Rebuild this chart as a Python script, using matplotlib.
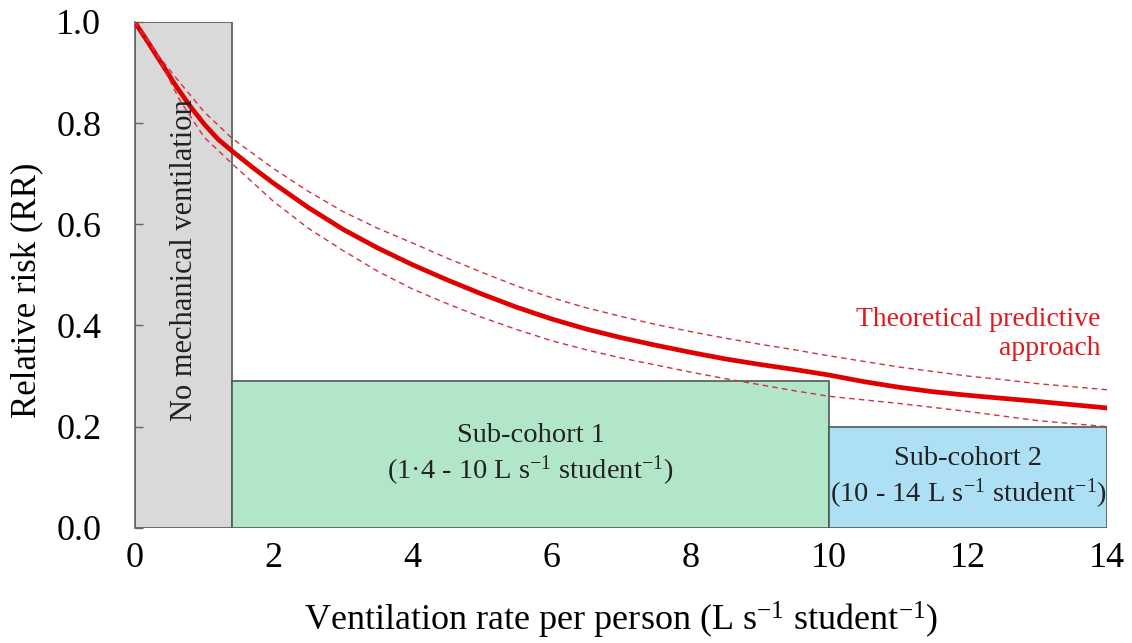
import numpy as np
import matplotlib
matplotlib.use("Agg")
import matplotlib.pyplot as plt
from matplotlib.patches import Rectangle

plt.rcParams['font.family'] = ['Liberation Serif', 'DejaVu Serif']
plt.rcParams['mathtext.fontset'] = 'custom'
plt.rcParams['mathtext.rm'] = 'Liberation Serif'
plt.rcParams['mathtext.default'] = 'regular'

# ventilation rate (L/s per student) and relative risk, central estimate
x_main = [0, 0.2, 0.4, 0.6, 0.8, 1.0, 1.2, 1.4, 1.7, 2, 2.5, 3, 3.5, 4, 4.5,
          5, 5.5, 6, 6.5, 7, 7.5, 8, 8.5, 9, 9.5, 10, 10.5, 11, 11.5, 12,
          12.5, 13, 13.5, 14]
rr_main = [1.0, 0.958, 0.915, 0.872, 0.833, 0.798, 0.768, 0.745, 0.712, 0.681,
           0.633, 0.590, 0.553, 0.520, 0.490, 0.462, 0.436, 0.413, 0.393,
           0.376, 0.361, 0.347, 0.334, 0.323, 0.313, 0.302, 0.289, 0.278,
           0.269, 0.262, 0.256, 0.25, 0.2435, 0.237]

# confidence band
x_ci = [0, 0.3, 0.65, 1.0, 1.4, 2, 2.5, 3, 3.5, 4, 4.5, 5, 5.5, 6, 6.5, 7,
        7.5, 8, 8.5, 9, 9.5, 10, 11, 12, 12.5, 13, 14]
rr_upper = [1.0, 0.94, 0.88, 0.822, 0.77, 0.71, 0.665, 0.625, 0.592, 0.563,
            0.533, 0.505, 0.478, 0.455, 0.435, 0.418, 0.402, 0.388, 0.375,
            0.363, 0.352, 0.34, 0.318, 0.30, 0.293, 0.285, 0.273]
rr_lower = [1.0, 0.94, 0.845, 0.772, 0.72, 0.645, 0.592, 0.548, 0.507, 0.472,
            0.443, 0.416, 0.392, 0.37, 0.352, 0.336, 0.322, 0.308, 0.295,
            0.283, 0.271, 0.26, 0.246, 0.23, 0.221, 0.212, 0.20]

# cohort boxes: start, end, relative risk
box_start = [0, 1.4, 10]
box_end = [1.4, 10, 14]
box_rr = [1.0, 0.29, 0.20]
box_colors = ['#d9d9d9', '#b2e6c8', '#addff5']

fig = plt.figure(figsize=(11.32, 6.43), dpi=100)
ax = fig.add_axes([0.119, 0.179, 0.859, 0.787])

for s, e, h, c in zip(box_start, box_end, box_rr, box_colors):
    ax.add_patch(Rectangle((s, 0), e - s, h, facecolor=c,
                           edgecolor='#4d5a55', linewidth=1.2, zorder=1))

ax.plot(x_main, rr_main, color='#e00000', linewidth=3.4, zorder=3,
        solid_joinstyle='round', solid_capstyle='round')
ax.plot(x_ci, rr_upper, color='#d3303f', linewidth=1.0, linestyle=(0, (4, 3)), zorder=3)
ax.plot(x_ci, rr_lower, color='#d3303f', linewidth=1.0, linestyle=(0, (4, 3)), zorder=3)

ax.text(0.72, 0.53, 'No mechanical ventilation', rotation=90, ha='center',
        va='center', fontsize=22, color='#222222', zorder=4)
ax.text(5.7, 0.143, 'Sub-cohort 1\n(1·4 - 10 L s$^{-1}$ student$^{-1}$)',
        ha='center', va='center', fontsize=20.5, color='#222222',
        linespacing=1.25, zorder=4)
ax.text(12.0, 0.098, 'Sub-cohort 2\n(10 - 14 L s$^{-1}$ student$^{-1}$)',
        ha='center', va='center', fontsize=20.5, color='#222222',
        linespacing=1.25, zorder=4)
ax.text(13.9, 0.383, 'Theoretical predictive\napproach', ha='right',
        va='center', multialignment='right', fontsize=20, color='#e0191e',
        linespacing=1.2, zorder=4)

ax.set_xlim(0, 14)
ax.set_ylim(0, 1.0)
ax.set_xticks(np.arange(0, 15, 2))
ax.set_yticks(np.arange(0, 1.01, 0.2))
ax.set_yticklabels(['0.0', '0.2', '0.4', '0.6', '0.8', '1.0'])
ax.tick_params(axis='x', length=0, pad=10, labelsize=26)
ax.tick_params(axis='y', direction='in', length=6, width=1, color='#666666',
               pad=24, labelsize=26)

for side in ['top', 'right', 'bottom']:
    ax.spines[side].set_visible(False)
ax.spines['left'].set_color('#666666')
ax.spines['left'].set_linewidth(1.2)

ax.set_xlabel('Ventilation rate per person (L s$^{-1}$ student$^{-1}$)', fontsize=26, labelpad=18)
ax.set_ylabel('Relative risk (RR)', fontsize=25)
ax.yaxis.set_label_coords(-0.094, 0.47)

fig.savefig('out.png', dpi=100)
